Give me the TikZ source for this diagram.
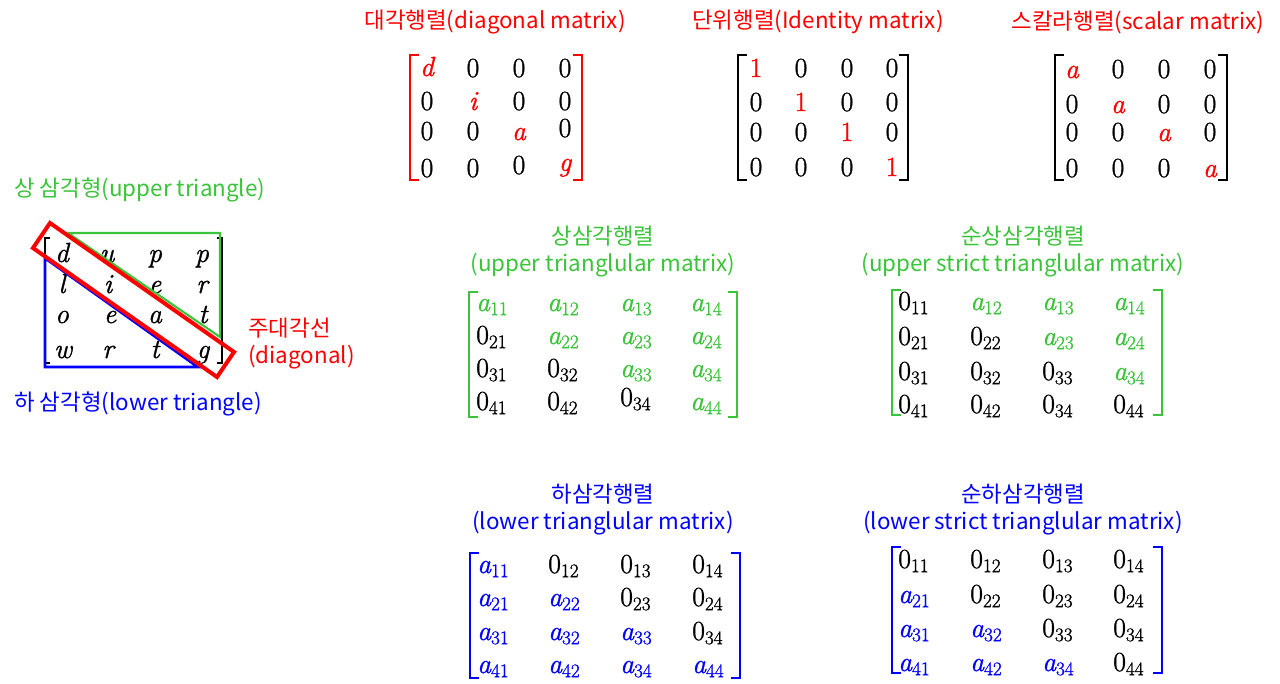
\documentclass[tikz,border=0pt]{standalone}
\usepackage{fontspec}
\newfontfamily\kr{Noto Sans CJK KR}
\newfontfamily\entfont[FakeBold=1.2]{Latin Modern Roman}
\DeclareMathSizes{20.74}{20.74}{14.4}{10}
\newcommand\I[1]{{\itshape #1}}
\newcommand\A[1]{{\itshape a}\textsubscript{#1}}
\newcommand\Z[1]{0\textsubscript{#1}}
\definecolor{myred}{RGB}{255,0,0}
\definecolor{mygreen}{RGB}{58,196,58}
\definecolor{myblue}{RGB}{0,0,255}
\begin{document}
\begin{tikzpicture}[x=0.75pt,y=-0.75pt,
  lbl/.style={font=\kr\fontsize{16.8}{19}\selectfont, inner sep=0pt},
  ent/.style={font=\entfont\fontsize{20.74}{25}\selectfont, inner sep=0pt, anchor=base},
  sub/.style={font=\entfont\fontsize{20.74}{25}\selectfont, inner sep=0pt, anchor=base west},
  brk/.style={line width=2.2pt, line cap=rect},
  thinbrk/.style={line width=1.2pt}]
\useasboundingbox (0,0) rectangle (1280,683);

% ---------- titles ----------
\node[lbl, text=myred] (t1) at (495,22) {대각행렬(diagonal matrix)};
\node[lbl, text=myred] (t2) at (818,22) {단위행렬(Identity matrix)};
\node[lbl, text=myred] (t3) at (1138,22) {스칼라행렬(scalar matrix)};

\node[lbl, text=mygreen, anchor=west] (ut) at (14,190) {상 삼각형(upper triangle)};
\node[lbl, text=myred, anchor=west] (dg1) at (248,328) {주대각선};
\node[lbl, text=myred, anchor=west] (dg2) at (248,357) {(diagonal)};
\node[lbl, text=myblue, anchor=west] (lt) at (14,404) {하 삼각형(lower triangle)};

\node[lbl, text=mygreen] (t4a) at (603,236) {상삼각행렬};
\node[lbl, text=mygreen] (t4b) at (603,265) {(upper trianglular matrix)};
\node[lbl, text=mygreen] (t5a) at (1023,236) {순상삼각행렬};
\node[lbl, text=mygreen] (t5b) at (1023,265) {(upper strict trianglular matrix)};
\node[lbl, text=myblue] (t6a) at (603,494) {하삼각행렬};
\node[lbl, text=myblue] (t6b) at (603,523) {(lower trianglular matrix)};
\node[lbl, text=myblue] (t7a) at (1023,494) {순하삼각행렬};
\node[lbl, text=myblue] (t7b) at (1023,523) {(lower strict trianglular matrix)};

% ---------- diagonal matrix ----------
\draw[brk, myred] (418,55) -- (410,55) -- (410,180) -- (418,180);
\draw[brk, myred] (574,55) -- (582,55) -- (582,180) -- (574,180);
\foreach \x/\y/\t/\c [count=\i] in {
 427/76/\I{d}/myred, 473/77/0/black, 519/77/0/black, 565/77/0/black,
 427/110/0/black, 473/110/\I{i}/myred, 519/110/0/black, 565/110/0/black,
 427/140/0/black, 473/140/0/black, 519/140/\I{a}/myred, 565/137/0/black,
 427/177/0/black, 473/177/0/black, 519/174/0/black, 565/171/\I{g}/myred}
  \node[ent, text=\c] (d\i) at (\x,\y) {\t};

% ---------- identity matrix ----------
\draw[brk] (746,55) -- (738,55) -- (738,180) -- (746,180);
\draw[brk] (900,55) -- (908,55) -- (908,180) -- (900,180);
\foreach \x/\y/\t/\c [count=\i] in {
 756/77/1/myred, 801/77/0/black, 847/77/0/black, 892/77/0/black,
 756/111/0/black, 801/111/1/myred, 847/111/0/black, 892/111/0/black,
 756/141/0/black, 801/141/0/black, 847/141/1/myred, 892/141/0/black,
 756/176/0/black, 801/176/0/black, 847/176/0/black, 892/176/1/myred}
  \node[ent, text=\c] (e\i) at (\x,\y) {\t};

% ---------- scalar matrix ----------
\draw[brk] (1063,55) -- (1055,55) -- (1055,180) -- (1063,180);
\draw[brk] (1219,55) -- (1227,55) -- (1227,180) -- (1219,180);
\foreach \x/\y/\t/\c [count=\i] in {
 1072/78/\I{a}/myred, 1118/78/0/black, 1164/78/0/black, 1210/78/0/black,
 1072/113/0/black, 1118/113/\I{a}/myred, 1164/113/0/black, 1210/113/0/black,
 1072/141/0/black, 1118/141/0/black, 1164/141/\I{a}/myred, 1210/141/0/black,
 1072/177/0/black, 1118/177/0/black, 1164/177/0/black, 1210/177/\I{a}/myred}
  \node[ent, text=\c] (s\i) at (\x,\y) {\t};

% ---------- small left matrix ----------
\draw[thinbrk] (50,238) -- (45,238) -- (45,363) -- (50,363);
\draw[thinbrk] (217,238) -- (222,238) -- (222,363) -- (217,363);
\foreach \x/\y/\t [count=\i] in {
 62/262/d, 107/262/u, 155/262/p, 202/262/p,
 62/293/l, 108/293/i, 155/293/e, 202/293/r,
 62/323/o, 110/323/e, 155/323/a, 203/323/t,
 63/358/w, 108/358/r, 155/358/t, 203/358/g}
  \node[ent] (k\i) at (\x,\y) {\I{\t}};
\draw[mygreen, line width=1.6pt] (68,233) -- (220,233) -- (220,337) -- cycle;
\draw[myblue, line width=2.2pt] (45,258) -- (45,367) -- (198,367) -- cycle;
\draw[myred, line width=3pt] (50,223) -- (234,352) -- (217,377) -- (33,248) -- cycle;

% ---------- upper triangular ----------
\draw[brk, mygreen] (477,292) -- (469,292) -- (469,417) -- (477,417);
\draw[brk, mygreen] (729,292) -- (737,292) -- (737,417) -- (729,417);
\foreach \x/\y/\t/\c [count=\i] in {
 476/311/\A{11}/mygreen, 547/311/\A{12}/mygreen, 620/311/\A{13}/mygreen, 690/311/\A{14}/mygreen,
 476/344/\Z{21}/black, 547/344/\A{22}/mygreen, 620/344/\A{23}/mygreen, 690/344/\A{24}/mygreen,
 476/377/\Z{31}/black, 547/377/\Z{32}/black, 620/377/\A{33}/mygreen, 690/377/\A{34}/mygreen,
 476/410/\Z{41}/black, 547/410/\Z{42}/black, 620/406/\Z{34}/black, 690/410/\A{44}/mygreen}
  \node[sub, text=\c] (u\i) at (\x,\y) {\t};

% ---------- strict upper triangular ----------
\draw[brk, mygreen] (900,290) -- (892,290) -- (892,415) -- (900,415);
\draw[brk, mygreen] (1154,290) -- (1162,290) -- (1162,415) -- (1154,415);
\foreach \x/\y/\t/\c [count=\i] in {
 898/310/\Z{11}/black, 970/310/\A{12}/mygreen, 1042/310/\A{13}/mygreen, 1113/310/\A{14}/mygreen,
 898/345/\Z{21}/black, 970/345/\Z{22}/black, 1042/345/\A{23}/mygreen, 1113/345/\A{24}/mygreen,
 898/380/\Z{31}/black, 970/380/\Z{32}/black, 1042/380/\Z{33}/black, 1113/380/\A{34}/mygreen,
 898/413/\Z{41}/black, 970/413/\Z{42}/black, 1042/413/\Z{34}/black, 1113/413/\Z{44}/black}
  \node[sub, text=\c] (v\i) at (\x,\y) {\t};

% ---------- lower triangular ----------
\draw[brk, myblue] (478,553) -- (470,553) -- (470,678) -- (478,678);
\draw[brk, myblue] (732,553) -- (740,553) -- (740,678) -- (732,678);
\foreach \x/\y/\t/\c [count=\i] in {
 477/573/\A{11}/myblue, 548/573/\Z{12}/black, 620/573/\Z{13}/black, 692/573/\Z{14}/black,
 477/606/\A{21}/myblue, 548/606/\A{22}/myblue, 620/606/\Z{23}/black, 692/606/\Z{24}/black,
 477/640/\A{31}/myblue, 548/640/\A{32}/myblue, 620/640/\A{33}/myblue, 692/640/\Z{34}/black,
 477/673/\A{41}/myblue, 548/673/\A{42}/myblue, 620/673/\A{34}/myblue, 692/673/\A{44}/myblue}
  \node[sub, text=\c] (w\i) at (\x,\y) {\t};

% ---------- strict lower triangular ----------
\draw[brk, myblue] (900,547) -- (892,547) -- (892,673) -- (900,673);
\draw[brk, myblue] (1154,547) -- (1162,547) -- (1162,673) -- (1154,673);
\foreach \x/\y/\t/\c [count=\i] in {
 898/568/\Z{11}/black, 970/568/\Z{12}/black, 1042/568/\Z{13}/black, 1113/568/\Z{14}/black,
 898/603/\A{21}/myblue, 970/603/\Z{22}/black, 1042/603/\Z{23}/black, 1113/603/\Z{24}/black,
 898/637/\A{31}/myblue, 970/637/\A{32}/myblue, 1042/637/\Z{33}/black, 1113/637/\Z{34}/black,
 898/671/\A{41}/myblue, 970/671/\A{42}/myblue, 1042/671/\A{34}/myblue, 1113/671/\Z{44}/black}
  \node[sub, text=\c] (z\i) at (\x,\y) {\t};
\end{tikzpicture}
\end{document}
